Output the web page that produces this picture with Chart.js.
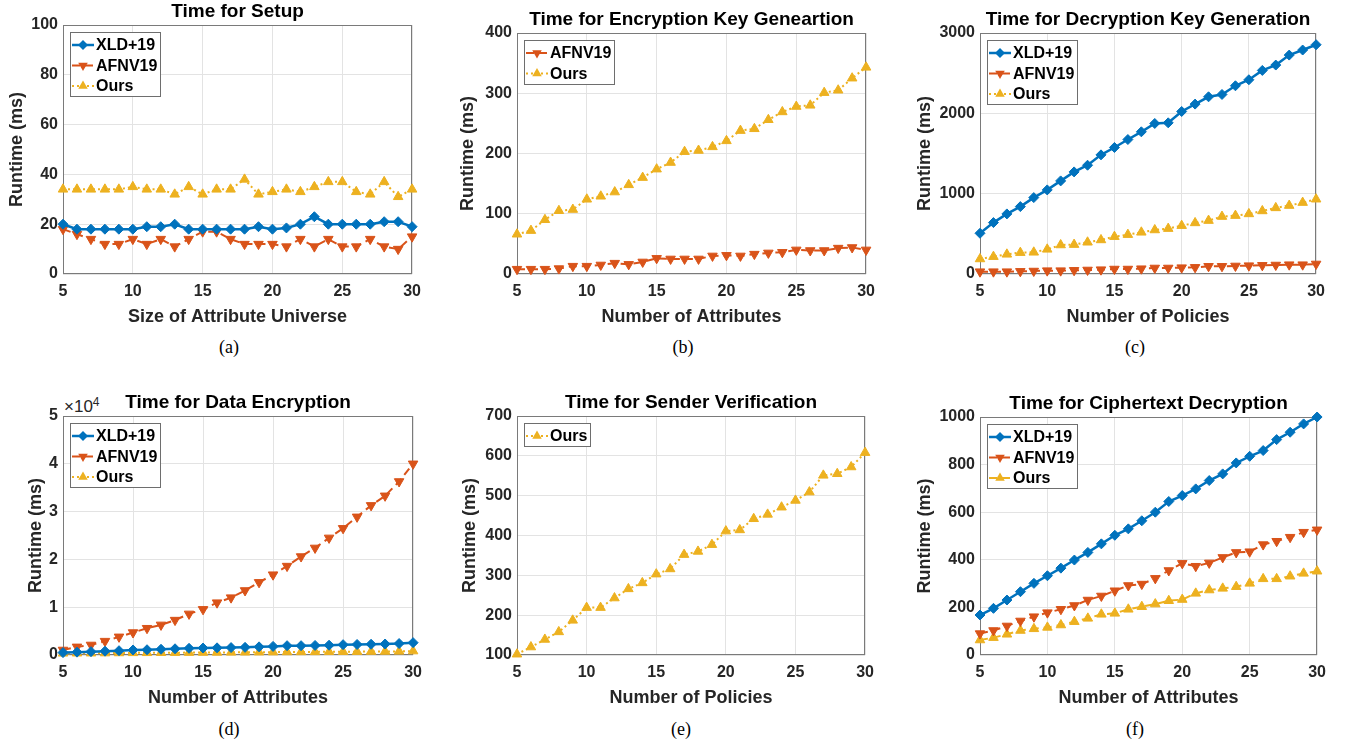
<!DOCTYPE html>
<html>
<head>
<meta charset="utf-8">
<title>Runtime comparison</title>
<script src="https://cdn.jsdelivr.net/npm/chart.js@4.4.0/dist/chart.umd.min.js"></script>
<style>
  html, body { margin: 0; padding: 0; background: #fff; }
  body { width: 1346px; height: 745px; position: relative; overflow: hidden; }
  canvas { position: absolute; }
  .caption {
    position: absolute;
    font: 18px 'Liberation Serif', 'Times New Roman', serif;
    color: #000;
    transform: translate(-50%, -50%);
  }
  .exp {
    position: absolute;
    font: 17px 'Liberation Sans', Arial, sans-serif;
    color: #262626;
    line-height: 18px;
  }
</style>
</head>
<body>
<div class="caption" style="left:229px;top:347px">(a)</div>
<div class="caption" style="left:683px;top:347px">(b)</div>
<div class="caption" style="left:1135px;top:347px">(c)</div>
<div class="caption" style="left:229px;top:729px">(d)</div>
<div class="caption" style="left:681px;top:729px">(e)</div>
<div class="caption" style="left:1135px;top:729px">(f)</div>
<div class="exp" style="left:64px;top:398px">×10<span style="font-size:12px;position:relative;top:-6px">4</span></div>

<script>
// x values shared by every panel
const attrCounts = [5, 6, 7, 8, 9, 10, 11, 12, 13, 14, 15, 16, 17, 18, 19, 20, 21, 22, 23, 24, 25, 26, 27, 28, 29, 30];

// (a) setup
const setupXld  = [20, 18, 18, 18, 18, 18, 19, 19, 20, 18, 18, 18, 18, 18, 19, 18, 18.5, 20, 23, 20, 20, 20, 20, 21, 21, 19];
const setupAfnv = [18, 16, 14, 12, 12, 14, 12, 14, 11, 14, 17, 17, 14, 12, 12, 12, 11, 14, 11, 14, 11, 11, 14, 11, 10, 15];
const setupOurs = [34, 34, 34, 34, 34, 35, 34, 34, 32, 35, 32, 34, 34, 38, 32, 33, 34, 33, 35, 37, 37, 33, 32, 37, 31, 34];

// (b) encryption key generation
const encKeyAfnv = [8, 8, 8, 9, 13, 13, 15, 18, 16, 20, 26, 25, 25, 25, 30, 31, 30, 33, 35, 36, 40, 39, 39, 43, 44, 40];
const encKeyOurs = [66, 72, 90, 105, 107, 124, 129, 136, 148, 160, 174, 185, 203, 205, 211, 221, 238, 241, 256, 269, 278, 280, 301, 305, 325, 343];

// (c) decryption key generation
const decKeyXld  = [507, 640, 748, 839, 951, 1047, 1159, 1271, 1354, 1483, 1575, 1674, 1770, 1874, 1882, 2023, 2115, 2206, 2235, 2343, 2418, 2534, 2601, 2725, 2788, 2854];
const decKeyAfnv = [29, 29, 29, 33, 37, 42, 42, 46, 50, 54, 62, 62, 66, 75, 75, 79, 83, 96, 96, 100, 104, 108, 112, 116, 116, 125];
const decKeyOurs = [187, 216, 245, 266, 270, 307, 361, 366, 395, 424, 465, 490, 519, 548, 565, 602, 636, 665, 715, 727, 748, 785, 823, 852, 889, 931];

// (d) data encryption
const dataEncXld  = [500, 600, 700, 800, 900, 1050, 1100, 1200, 1300, 1400, 1460, 1500, 1550, 1600, 1700, 1800, 1950, 1950, 2000, 2050, 2160, 2200, 2250, 2300, 2400, 2580];
const dataEncAfnv = [1050, 1700, 2100, 2900, 3800, 4700, 5600, 6300, 7300, 8600, 9550, 10950, 12000, 13500, 15200, 16800, 18600, 20600, 22400, 24500, 26500, 28900, 31300, 33300, 36300, 40000];
const dataEncOurs = [350, 370, 380, 400, 420, 450, 460, 470, 490, 500, 520, 540, 550, 570, 590, 600, 630, 640, 650, 670, 690, 700, 720, 740, 760, 820];

// (e) sender verification
const senderOurs = [102, 120, 139, 158, 187, 219, 219, 243, 266, 281, 303, 316, 352, 360, 377, 411, 414, 442, 453, 471, 488, 509, 551, 555, 572, 608];

// (f) ciphertext decryption
const ctDecXld  = [168, 196, 231, 266, 301, 333, 365, 399, 431, 467, 503, 530, 564, 600, 645, 670, 698, 733, 761, 807, 835, 859, 905, 936, 971, 1000];
const ctDecAfnv = [90, 103, 122, 143, 161, 178, 192, 208, 231, 248, 270, 292, 298, 322, 355, 385, 373, 387, 410, 431, 434, 464, 478, 495, 516, 526];
const ctDecOurs = [63, 73, 87, 103, 110, 116, 126, 140, 154, 171, 175, 192, 203, 214, 228, 233, 259, 273, 280, 287, 301, 320, 320, 331, 343, 352];

const FONT = "'Liberation Sans', Arial, Helvetica, sans-serif";
Chart.defaults.font.family = FONT;

const XLD = { color: '#0072BD', width: 2.5, dash: [], marker: 'rectRot', rot: 0, size: 5 };
const AFNV = { color: '#D95319', width: 2, dash: [8, 5], marker: 'triangle', rot: 180, size: 5.5 };
const OURS = { color: '#EDB120', width: 2, dash: [2, 3], marker: 'triangle', rot: 0, size: 5.5 };
const OURS_DASHED = Object.assign({}, OURS, { dash: [8, 5] });

function line(label, values, look) {
    return {
        label: label,
        data: values.map((v, i) => ({ x: attrCounts[i], y: v })),
        borderColor: look.color,
        backgroundColor: look.color,
        pointBackgroundColor: look.color,
        pointBorderColor: look.color,
        borderWidth: look.width,
        borderDash: look.dash,
        pointStyle: look.marker,
        pointRotation: look.rot,
        pointRadius: look.size,
        pointBorderWidth: 1,
        tension: 0,
        fill: false,
        clip: false
    };
}

function drawMarker(ctx, style, rot, r, x, y, color) {
    ctx.fillStyle = color;
    ctx.beginPath();
    if (style === 'rectRot') {
        ctx.moveTo(x - r, y);
        ctx.lineTo(x, y - r);
        ctx.lineTo(x + r, y);
        ctx.lineTo(x, y + r);
    } else {
        const s = rot === 180 ? -1 : 1;
        ctx.moveTo(x, y - s * r);
        ctx.lineTo(x + r * 0.866, y + s * r / 2);
        ctx.lineTo(x - r * 0.866, y + s * r / 2);
    }
    ctx.closePath();
    ctx.fill();
}

// box round the plot area, like matlab's "box on"
const axesBox = {
    id: 'axesBox',
    beforeDatasetsDraw(chart) {
        const { ctx, chartArea: a } = chart;
        ctx.save();
        ctx.strokeStyle = '#7a7a7a';
        ctx.lineWidth = 1;
        ctx.strokeRect(Math.round(a.left) + 0.5, Math.round(a.top) + 0.5,
            Math.round(a.right - a.left) - 1, Math.round(a.bottom - a.top) - 1);
        ctx.restore();
    }
};

// legend drawn inside the top-left corner of the plot
const boxLegend = {
    id: 'boxLegend',
    afterDatasetsDraw(chart) {
        const ctx = chart.ctx;
        const area = chart.chartArea;
        const sets = chart.data.datasets;
        ctx.save();
        ctx.font = 'bold 16px ' + FONT;
        let textW = 0;
        sets.forEach(ds => { textW = Math.max(textW, ctx.measureText(ds.label).width); });
        const x0 = Math.round(area.left + 7);
        const y0 = Math.round(area.top + 7);
        const w = Math.round(26 + textW + 3);
        const h = Math.round(23 + 20.5 * (sets.length - 1));
        ctx.fillStyle = '#fff';
        ctx.fillRect(x0, y0, w, h);
        ctx.strokeStyle = '#6e6e6e';
        ctx.lineWidth = 1;
        ctx.strokeRect(x0 + 0.5, y0 + 0.5, w, h);
        sets.forEach((ds, i) => {
            const cy = y0 + 13 + 20.5 * i;
            ctx.strokeStyle = ds.borderColor;
            ctx.lineWidth = ds.borderWidth;
            ctx.setLineDash(ds.borderDash || []);
            ctx.beginPath();
            ctx.moveTo(x0 + 2, cy);
            ctx.lineTo(x0 + 24, cy);
            ctx.stroke();
            ctx.setLineDash([]);
            drawMarker(ctx, ds.pointStyle, ds.pointRotation, ds.pointRadius, x0 + 13, cy, ds.borderColor);
            ctx.fillStyle = '#000';
            ctx.textAlign = 'left';
            ctx.textBaseline = 'middle';
            ctx.fillText(ds.label, x0 + 26, cy + 1);
        });
        ctx.restore();
    }
};

function makePanel(p) {
    const left = Math.round(p.yTitleX - 11);
    const top = p.plotTop - 25;
    const width = p.plotRight + 16 - left;
    const height = p.plotBottom + 56 - top;
    const axisW = p.plotLeft - left;

    const canvas = document.createElement('canvas');
    canvas.width = width;
    canvas.height = height;
    canvas.style.left = left + 'px';
    canvas.style.top = top + 'px';
    canvas.style.width = width + 'px';
    canvas.style.height = height + 'px';
    document.body.appendChild(canvas);

    const tickFont = { size: 16, weight: 'bold' };
    const titleFont = { size: 18, weight: 'bold' };

    new Chart(canvas, {
        type: 'line',
        data: { datasets: p.datasets },
        options: {
            responsive: false,
            animation: false,
            events: [],
            layout: { padding: { left: 0, right: 16, top: 0, bottom: 0 } },
            plugins: {
                legend: { display: false },
                tooltip: { enabled: false },
                title: {
                    display: true,
                    text: p.title,
                    fullSize: false,
                    color: '#000',
                    font: { size: 19, weight: 'bold' },
                    padding: { top: 0, bottom: 2.2 }
                }
            },
            scales: {
                x: {
                    type: 'linear',
                    min: 5,
                    max: 30,
                    ticks: { stepSize: 5, padding: 8, color: '#262626', font: tickFont, maxRotation: 0 },
                    grid: { color: '#e3e3e3', drawTicks: false },
                    border: { display: false },
                    title: { display: true, text: p.xTitle, color: '#262626', font: titleFont, padding: { top: 0, bottom: 2 } },
                    afterFit: s => { s.height = 56; }
                },
                y: {
                    type: 'linear',
                    min: p.yMin,
                    max: p.yMax,
                    ticks: {
                        stepSize: p.yStep,
                        padding: 5,
                        color: '#262626',
                        font: tickFont,
                        callback: p.yLabel || (v => String(v))
                    },
                    grid: { color: '#e3e3e3', drawTicks: false },
                    border: { display: false },
                    title: { display: true, text: 'Runtime (ms)', color: '#262626', font: titleFont, padding: { top: 0, bottom: 0 } },
                    afterFit: s => { s.width = axisW; }
                }
            }
        },
        plugins: [axesBox, boxLegend]
    });
}

makePanel({
    title: 'Time for Setup', xTitle: 'Size of Attribute Universe',
    yMin: 0, yMax: 100, yStep: 20,
    plotLeft: 63, plotRight: 413, plotTop: 25, plotBottom: 274, yTitleX: 17,
    datasets: [line('XLD+19', setupXld, XLD), line('AFNV19', setupAfnv, AFNV), line('Ours', setupOurs, OURS)]
});

makePanel({
    title: 'Time for Encryption Key Geneartion', xTitle: 'Number of Attributes',
    yMin: 0, yMax: 400, yStep: 100,
    plotLeft: 517, plotRight: 867, plotTop: 33, plotBottom: 274, yTitleX: 468,
    datasets: [line('AFNV19', encKeyAfnv, AFNV), line('Ours', encKeyOurs, OURS)]
});

makePanel({
    title: 'Time for Decryption Key Generation', xTitle: 'Number of Policies',
    yMin: 0, yMax: 3000, yStep: 1000,
    plotLeft: 980, plotRight: 1317, plotTop: 33, plotBottom: 274, yTitleX: 925,
    datasets: [line('XLD+19', decKeyXld, XLD), line('AFNV19', decKeyAfnv, AFNV), line('Ours', decKeyOurs, OURS)]
});

makePanel({
    title: 'Time for Data Encryption', xTitle: 'Number of Attributes',
    yMin: 0, yMax: 50000, yStep: 10000, yLabel: v => String(v / 10000),
    plotLeft: 63, plotRight: 414, plotTop: 416, plotBottom: 655, yTitleX: 36,
    datasets: [line('XLD+19', dataEncXld, XLD), line('AFNV19', dataEncAfnv, AFNV), line('Ours', dataEncOurs, OURS)]
});

makePanel({
    title: 'Time for Sender Verification', xTitle: 'Number of Policies',
    yMin: 100, yMax: 700, yStep: 100,
    plotLeft: 517, plotRight: 866, plotTop: 416, plotBottom: 655, yTitleX: 470,
    datasets: [line('Ours', senderOurs, OURS)]
});

makePanel({
    title: 'Time for Ciphertext Decryption', xTitle: 'Number of Attributes',
    yMin: 0, yMax: 1000, yStep: 200,
    plotLeft: 980, plotRight: 1318, plotTop: 417, plotBottom: 655, yTitleX: 925,
    datasets: [line('XLD+19', ctDecXld, XLD), line('AFNV19', ctDecAfnv, AFNV), line('Ours', ctDecOurs, OURS_DASHED)]
});
</script>
</body>
</html>
